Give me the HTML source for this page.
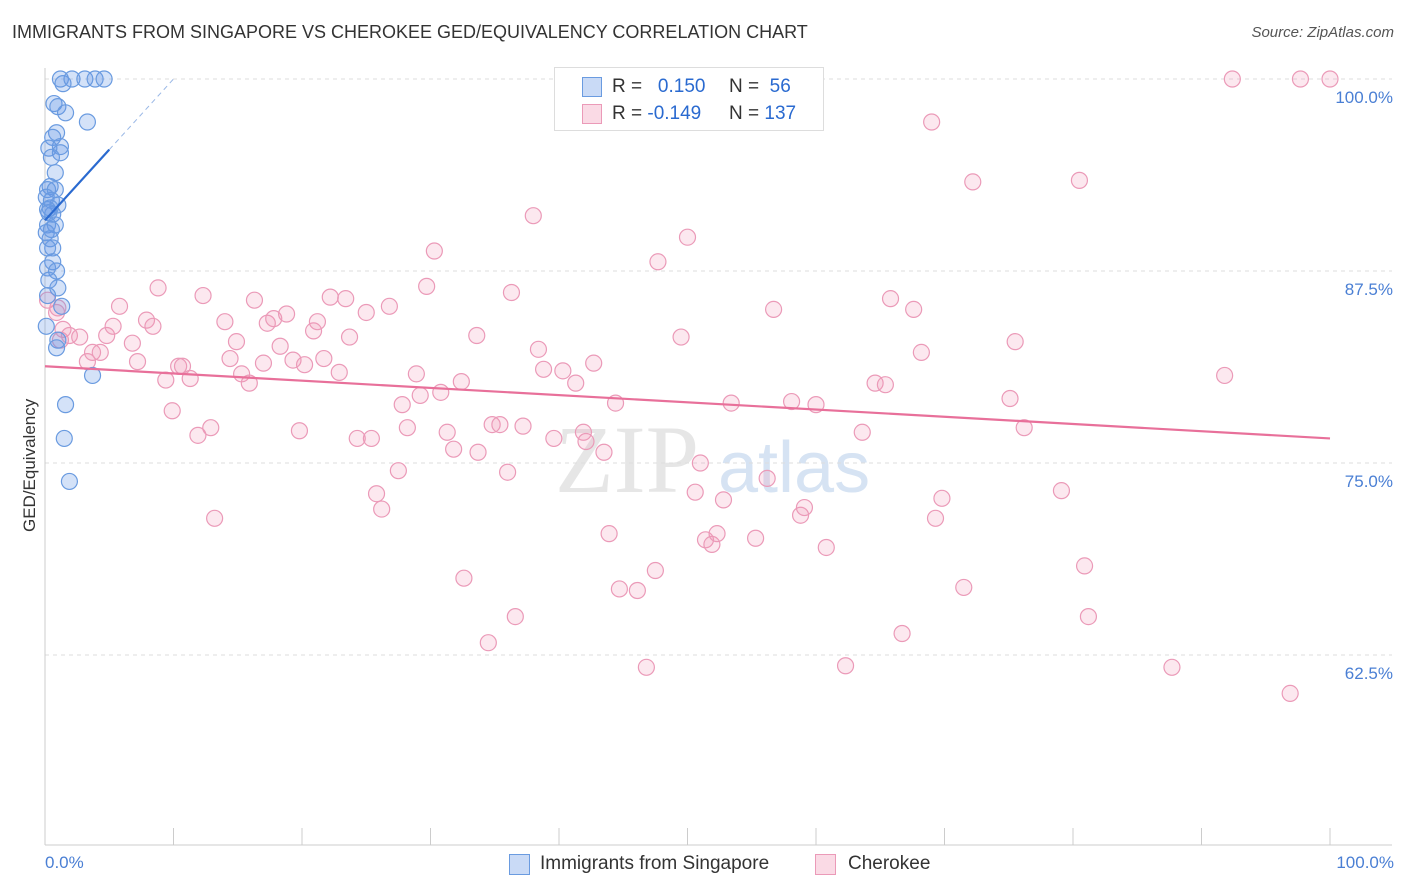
<!DOCTYPE html>
<html><head><meta charset="utf-8"><style>
body{margin:0;background:#fff;font-family:"Liberation Sans",sans-serif;}
#wrap{position:relative;width:1406px;height:892px;overflow:hidden;}
.t{position:absolute;white-space:nowrap;}
</style></head><body>
<div id="wrap">
<div class="t" style="left:12px;top:22px;font-size:18px;color:#333;">IMMIGRANTS FROM SINGAPORE VS CHEROKEE GED/EQUIVALENCY CORRELATION CHART</div>
<div class="t" style="right:12px;top:24px;font-size:15px;color:#555;font-style:italic;">Source: ZipAtlas.com</div>
<svg id="svg" width="1406" height="892" style="position:absolute;left:0;top:0"></svg>
</div>
<script>
const yTicks=[100,87.5,75,62.5];
const yTickLabels=["100.0%","87.5%","75.0%","62.5%"];
const blueX=[1.2,2.1,3.1,3.9,4.6,1.4,0.7,1.0,1.6,3.3,0.9,0.6,1.2,0.3,1.2,0.5,0.8,0.4,0.2,0.8,0.5,1.0,0.2,0.6,0.3,0.2,0.8,0.1,0.4,0.6,0.2,0.6,0.2,0.9,0.3,1.0,0.2,1.3,0.1,1.0,0.9,3.7,1.6,1.5,1.9,0.4,0.1,0.5];
const blueY=[100,100,100,100,100,99.7,98.4,98.2,97.8,97.2,96.5,96.2,95.6,95.5,95.2,94.9,93.9,93.0,92.8,92.8,92.1,91.8,91.5,91.2,91.3,90.5,90.5,90.0,89.6,89.0,89.0,88.1,87.7,87.5,86.9,86.4,85.9,85.2,83.9,83.0,82.5,80.7,78.8,76.6,73.8,91.6,92.3,90.2];
const pinkX=[0.9,1.4,1.2,1.9,2.7,3.3,3.7,4.3,4.8,5.3,5.8,6.8,7.2,7.9,8.4,8.8,9.4,9.9,10.4,10.7,11.3,11.9,12.3,12.9,13.2,14.0,14.4,14.9,15.3,15.9,16.3,17.0,17.3,17.8,18.3,18.8,19.3,19.8,20.2,20.9,21.2,21.7,22.2,22.9,23.4,23.7,24.3,25.0,25.4,25.8,26.2,26.8,27.5,27.8,28.2,28.9,29.2,29.7,30.3,30.8,31.3,31.8,32.4,32.6,33.6,33.7,34.5,34.8,35.4,36.0,36.3,36.6,37.2,38.0,38.4,38.8,39.6,40.3,41.3,41.9,42.1,42.7,43.5,43.9,44.4,44.7,46.1,46.8,47.5,47.7,49.5,50.0,50.6,51.0,51.4,51.9,52.3,52.8,53.5,53.4,55.3,56.2,56.7,58.1,58.8,59.1,60.0,60.8,62.3,63.6,64.6,65.4,65.8,66.7,67.6,68.2,69.0,69.3,69.8,71.5,72.2,75.1,75.5,76.2,79.1,80.5,80.9,81.2,87.7,91.8,92.4,96.9,97.7,100,1.0,0.2];
const pinkY=[84.8,83.7,83.0,83.3,83.2,81.6,82.2,82.2,83.3,83.9,85.2,82.8,81.6,84.3,83.9,86.4,80.4,78.4,81.3,81.3,80.5,76.8,85.9,77.3,71.4,84.2,81.8,82.9,80.8,80.2,85.6,81.5,84.1,84.4,82.6,84.7,81.7,77.1,81.4,83.6,84.2,81.8,85.8,80.9,85.7,83.2,76.6,84.8,76.6,73.0,72.0,85.2,74.5,78.8,77.3,80.8,79.4,86.5,88.8,79.6,77.0,75.9,80.3,67.5,83.3,75.7,63.3,77.5,77.5,74.4,86.1,65.0,77.4,91.1,82.4,81.1,76.6,81.0,80.2,77.0,76.4,81.5,75.7,70.4,78.9,66.8,66.7,61.7,68.0,88.1,83.2,89.7,73.1,75.0,70.0,69.7,70.4,72.6,100,78.9,70.1,74.0,85.0,79.0,71.6,72.1,78.8,69.5,61.8,77.0,80.2,80.1,85.7,63.9,85.0,82.2,97.2,71.4,72.7,66.9,93.3,79.2,82.9,77.3,73.2,93.4,68.3,65.0,61.7,80.7,100,60.0,100,100,85.1,85.6];
const blueTrend=[[0,90.8],[5,95.4]];
const blueDash=[[5,95.4],[10,100]];
const pinkTrend=[[0,81.3],[100,76.6]];
const X0=45,X1=1330,YTOP=79,PX=15.36;
const sx=v=>X0+(X1-X0)*v/100;
const sy=v=>YTOP+(100-v)*PX;
const svg=document.getElementById('svg');
const NS='http://www.w3.org/2000/svg';
function mk(tag,attrs,parent){const e=document.createElementNS(NS,tag);for(const k in attrs)e.setAttribute(k,attrs[k]);(parent||svg).appendChild(e);return e;}
// watermark
let wm=mk('text',{x:555,y:492,'font-size':96,'font-family':'Liberation Serif, serif',fill:'#e6e6e6'});


wm.textContent='ZIP';
let wm2=mk('text',{x:718,y:492,'font-size':72,'font-family':'Liberation Sans, sans-serif',fill:'#d6e3f3'});


wm2.textContent='atlas';
// gridlines & labels
yTicks.forEach((t,i)=>{
 const g=mk('line',{x1:X0,x2:1392,y1:sy(t),y2:sy(t),stroke:'#ddd','stroke-dasharray':'4,4'});
 
 
 const l=mk('text',{x:1393,y:sy(t)+24,'text-anchor':'end','font-size':17,fill:'#4a7fd4'});
 
 
 l.textContent=yTickLabels[i];
});
// axes
let ax=mk('line',{x1:X0,x2:1392,y1:845,y2:845,stroke:'#ccc'});


let ay=mk('line',{x1:X0,x2:X0,y1:68,y2:845,stroke:'#ccc'});


for(let i=0;i<=10;i++){const tk=mk('line',{x1:sx(i*10),x2:sx(i*10),y1:828,y2:845,stroke:'#ccc'});
 
 }
// points
pinkX.forEach((v,i)=>{const c=mk('circle',{cx:sx(v),cy:sy(pinkY[i]),r:8,fill:'rgba(240,150,180,0.22)',stroke:'#eb9ab8','stroke-width':1.2});
 
 });
blueX.forEach((v,i)=>{const c=mk('circle',{cx:sx(v),cy:sy(blueY[i]),r:8,fill:'rgba(100,150,230,0.28)',stroke:'#6a9be0','stroke-width':1.2});
 
 });
// trends
let pt=mk('line',{x1:sx(pinkTrend[0][0]),y1:sy(pinkTrend[0][1]),x2:sx(pinkTrend[1][0]),y2:sy(pinkTrend[1][1]),stroke:'#e8709a','stroke-width':2.2});


let bt=mk('line',{x1:sx(blueTrend[0][0]),y1:sy(blueTrend[0][1]),x2:sx(blueTrend[1][0]),y2:sy(blueTrend[1][1]),stroke:'#2a6ad0','stroke-width':2.2});


let bd=mk('line',{x1:sx(blueDash[0][0]),y1:sy(blueDash[0][1]),x2:sx(blueDash[1][0]),y2:sy(blueDash[1][1]),stroke:'#9ab8e6','stroke-width':1,'stroke-dasharray':'5,4'});


</script>
<div class="t" style="left:20px;top:532px;transform:rotate(-90deg);transform-origin:0 0;font-size:17px;color:#333;">GED/Equivalency</div>
<div class="t" style="left:45px;top:853px;font-size:17px;color:#4a7fd4;">0.0%</div>
<div class="t" style="right:12px;top:853px;font-size:17px;color:#4a7fd4;">100.0%</div>
<div class="t" style="left:554px;top:67px;width:268px;height:62px;border:1px solid #ddd;background:#fff;">
 <div class="t" style="left:27px;top:9px;width:18px;height:18px;background:rgba(100,150,230,0.35);border:1px solid #6a9be0;"></div>
 <div class="t" style="left:57px;top:8px;font-size:19px;color:#333;">R = &nbsp;<span style="color:#2a6ad0">&nbsp;0.150</span></div>
 <div class="t" style="left:174px;top:8px;font-size:19px;color:#333;">N = &nbsp;<span style="color:#2a6ad0">56</span></div>
 <div class="t" style="left:27px;top:36px;width:18px;height:18px;background:rgba(240,150,180,0.35);border:1px solid #eb9ab8;"></div>
 <div class="t" style="left:57px;top:35px;font-size:19px;color:#333;">R = <span style="color:#2a6ad0">-0.149</span></div>
 <div class="t" style="left:174px;top:35px;font-size:19px;color:#333;">N = <span style="color:#2a6ad0">137</span></div>
</div>
<div class="t" style="left:509px;top:854px;width:19px;height:19px;background:rgba(100,150,230,0.35);border:1px solid #6a9be0;"></div>
<div class="t" style="left:540px;top:853px;font-size:19px;color:#333;">Immigrants from Singapore</div>
<div class="t" style="left:815px;top:854px;width:19px;height:19px;background:rgba(240,150,180,0.35);border:1px solid #eb9ab8;"></div>
<div class="t" style="left:848px;top:853px;font-size:19px;color:#333;">Cherokee</div>
</body></html>
